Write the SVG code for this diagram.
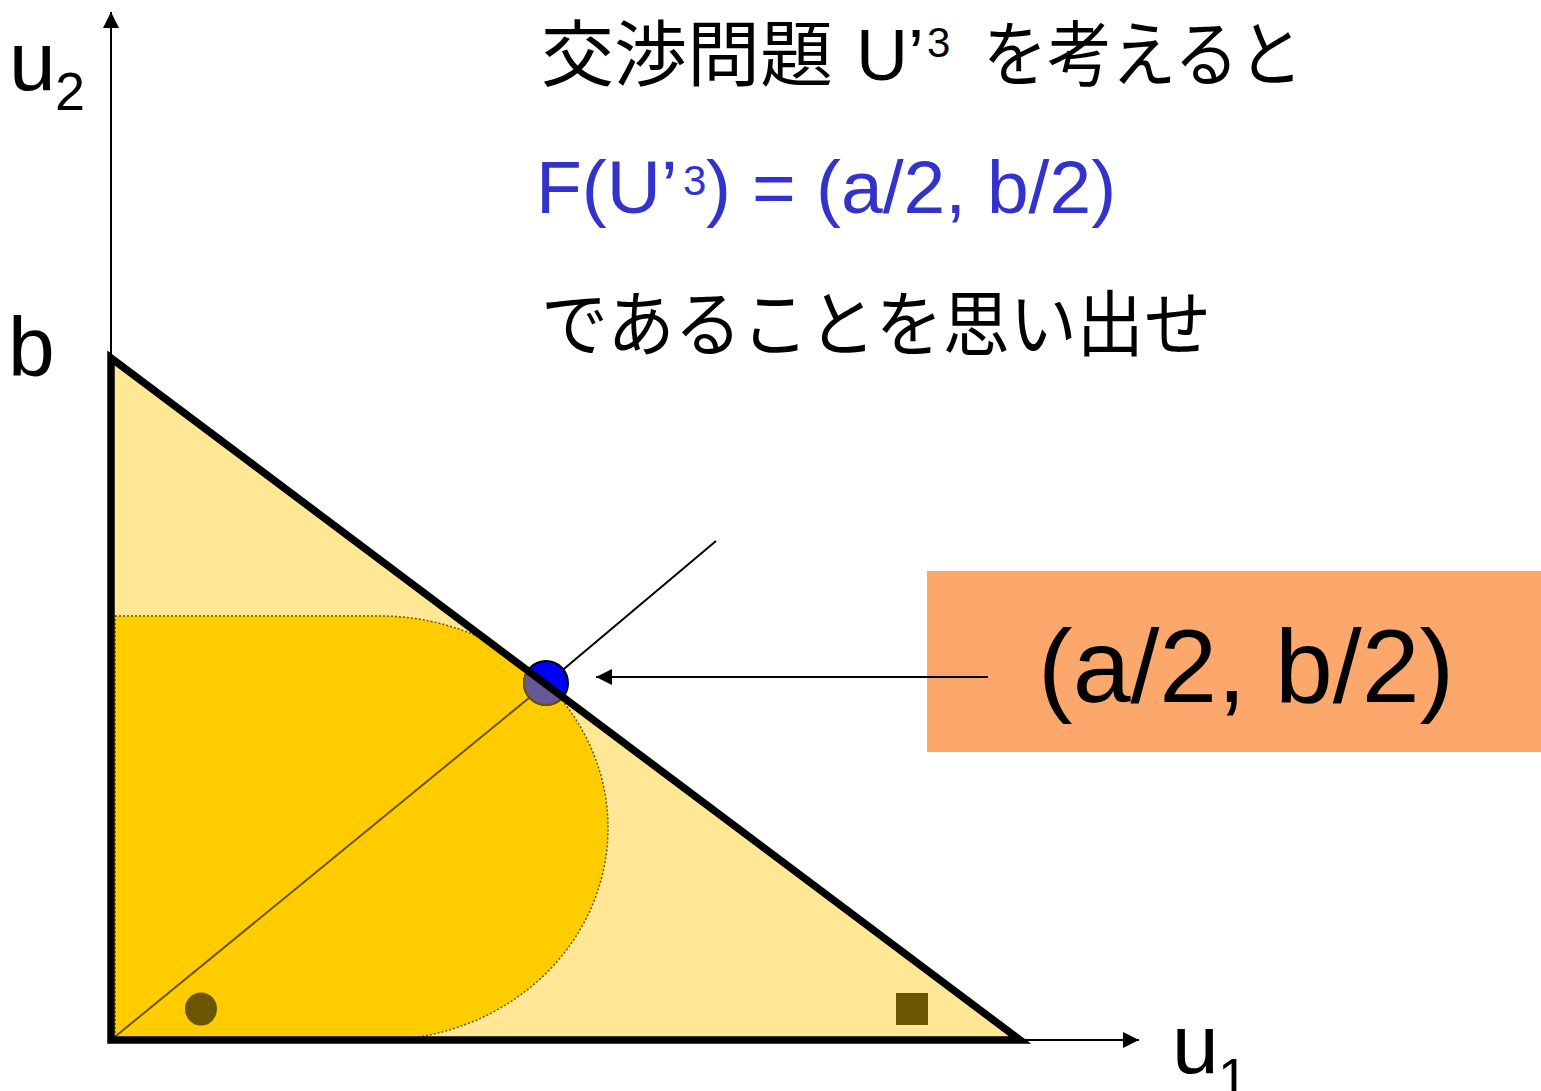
<svg xmlns="http://www.w3.org/2000/svg" width="1541" height="1091" viewBox="0 0 1541 1091">
  <defs>
    <style>
      .lat { font-family: "Liberation Sans", Arial, sans-serif; }
      .cjk { font-family: "Liberation Sans", "Noto Sans CJK JP", sans-serif; }
      .olive { fill: #6B5600; }
    </style>
    <marker id="ah" viewBox="0 0 16 16" refX="16" refY="8" markerWidth="16" markerHeight="16" markerUnits="userSpaceOnUse" orient="auto">
      <path d="M0,0 L16,8 L0,16 Z" fill="#000"/>
    </marker>
    <clipPath id="tri">
      <polygon points="111,358 1020,1040 111,1040"/>
    </clipPath>
  </defs>
  <rect width="1541" height="1091" fill="#fff"/>

  <g id="region">
    <polygon points="111,358 1020,1040 111,1040" fill="#FFE796"/>
    <path clip-path="url(#tri)" d="M115,616 H380 A228,212 0 0 1 380,1040 H115 Z" fill="#FFCC00" stroke="#6B5600" stroke-width="1.5" stroke-dasharray="2,2"/>
  </g>

  <g id="label-box">
    <rect x="927" y="571" width="614" height="181" fill="#FCA86D"/>
    <text class="lat" x="1038" y="702" font-size="104" fill="#000">(a/2, b/2)</text>
  </g>

  <g id="connectors">
    <line x1="111" y1="1040" x2="546" y2="684" stroke="#6B5600" stroke-width="2"/>
    <line x1="546" y1="684" x2="716" y2="541" stroke="#000" stroke-width="2"/>
    <line x1="988" y1="677" x2="596" y2="677" stroke="#000" stroke-width="2" marker-end="url(#ah)"/>
    <line x1="111" y1="1040" x2="111" y2="12" stroke="#000" stroke-width="2" marker-end="url(#ah)"/>
    <line x1="1020" y1="1040" x2="1139" y2="1040" stroke="#000" stroke-width="2" marker-end="url(#ah)"/>
  </g>

  <g id="point">
    <circle cx="546" cy="683" r="22" fill="#0000FF" stroke="#000" stroke-width="2"/>
    <circle clip-path="url(#tri)" cx="546" cy="683" r="22" fill="#675897" stroke="#6B5600" stroke-width="2"/>
  </g>

  <g id="frontier">
    <polygon points="111,358 1020,1040 111,1040" fill="none" stroke="#000" stroke-width="7.5"/>
  </g>

  <g id="markers">
    <ellipse class="olive" cx="201" cy="1009" rx="16" ry="16.5"/>
    <rect class="olive" x="896" y="993" width="32" height="32"/>
  </g>

  <g id="axis-labels" class="lat" fill="#000">
    <text x="9" y="90" font-size="84">u<tspan x="55" y="110" font-size="54">2</tspan></text>
    <text x="8" y="376" font-size="84">b</text>
    <text x="1172" y="1073" font-size="84">u<tspan x="1218" y="1096" font-size="54">1</tspan></text>
  </g>

  <g id="caption" fill="#000">
    <text class="cjk" y="80" font-size="72"><tspan x="541" textLength="292" lengthAdjust="spacingAndGlyphs">交渉問題</tspan><tspan class="lat" x="856">U’</tspan><tspan class="lat" x="927" y="57" font-size="42">3</tspan><tspan x="983" y="80" textLength="320" lengthAdjust="spacingAndGlyphs">を考えると</tspan></text>
    <text class="lat" x="536" y="213" font-size="75" fill="#3333CC">F(U’<tspan x="683" y="195" font-size="42">3</tspan><tspan x="706" y="213">)</tspan><tspan x="752" y="213">=</tspan><tspan x="816" y="213">(a/2, b/2)</tspan></text>
    <text class="cjk" x="541" y="350" font-size="72" textLength="670" lengthAdjust="spacingAndGlyphs">であることを思い出せ</text>
  </g>
</svg>
